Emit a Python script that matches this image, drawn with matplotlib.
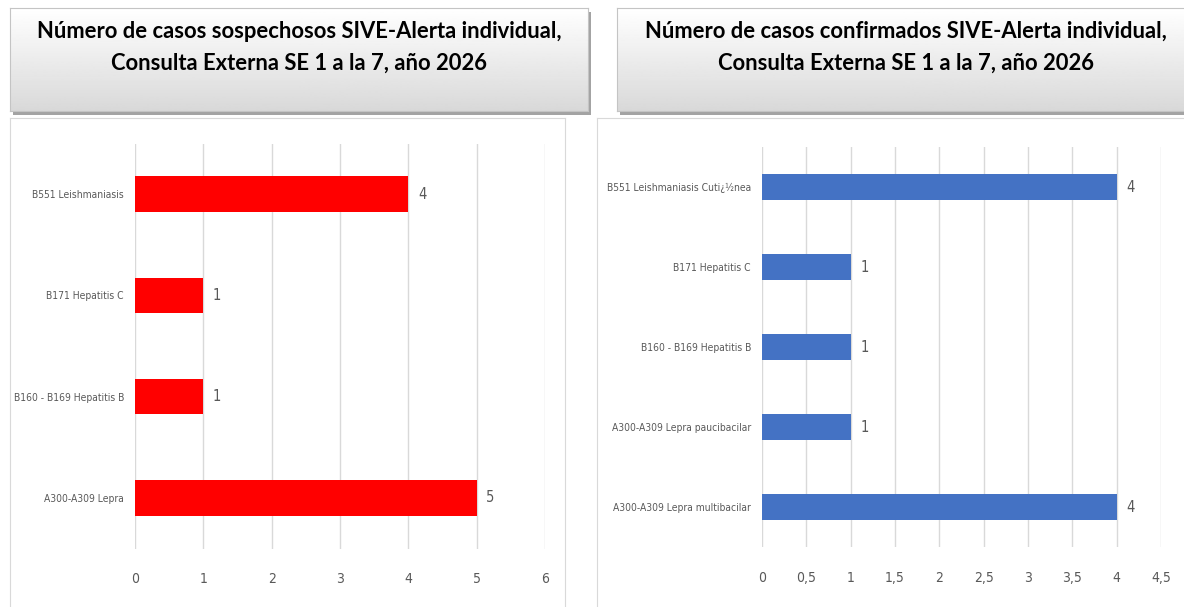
import matplotlib
matplotlib.use("Agg")
from matplotlib import pyplot as plt
import numpy as np

# datos
sosp_labels = ["B551 Leishmaniasis", "B171 Hepatitis C", "B160 - B169 Hepatitis B", "A300-A309 Lepra"]
sosp_values = [4, 1, 1, 5]
sosp_ticks = [0, 1, 2, 3, 4, 5, 6]
sosp_ticklabels = ["0", "1", "2", "3", "4", "5", "6"]

conf_labels = ["B551 Leishmaniasis Cuti¿½nea", "B171 Hepatitis C", "B160 - B169 Hepatitis B",
               "A300-A309 Lepra paucibacilar", "A300-A309 Lepra multibacilar"]
conf_values = [4, 1, 1, 1, 4]
conf_ticks = [0, 0.5, 1, 1.5, 2, 2.5, 3, 3.5, 4, 4.5]
conf_ticklabels = ["0", "0,5", "1", "1,5", "2", "2,5", "3", "3,5", "4", "4,5"]

title_sosp = "Número de casos sospechosos SIVE-Alerta individual,\nConsulta Externa SE 1 a la 7, año 2026"
title_conf = "Número de casos confirmados SIVE-Alerta individual,\nConsulta Externa SE 1 a la 7, año 2026"

W, H = 1184, 607
fig = plt.figure(figsize=(W / 100, H / 100), dpi=100)
fig.patch.set_facecolor("white")

LABEL_FONT = dict(family="DejaVu Sans", stretch="condensed", color="#595959")


def px_axes(x0, y0, x1, y1, **kw):
    # caja en pixeles (origen arriba-izquierda) -> ejes de la figura
    return fig.add_axes([x0 / W, 1 - y1 / H, (x1 - x0) / W, (y1 - y0) / H], **kw)


def title_box(x0, y0, x1, y1, text, xc):
    # sombra
    sh = px_axes(x0 + 3, y0 + 4, x1 + 3, y1 + 4)
    sh.set_facecolor("#a3a3a3")
    sh.set_xticks([])
    sh.set_yticks([])
    for s in sh.spines.values():
        s.set_visible(False)
    ax = px_axes(x0, y0, x1, y1)
    grad = np.linspace(1.0, 0.85, 100).reshape(-1, 1)
    ax.imshow(grad, cmap="gray", vmin=0, vmax=1, aspect="auto", extent=[0, 1, 0, 1])
    ax.set_xlim(0, 1)
    ax.set_ylim(0, 1)
    ax.set_xticks([])
    ax.set_yticks([])
    for s in ax.spines.values():
        s.set_color("#c4c4c4")
    ax.text(xc, 0.62, text, ha="center", va="center", fontsize=15.8, fontweight="bold",
            family=["Lato", "DejaVu Sans"], linespacing=1.6, color="black")


def chart_frame(x0, y0, x1, y1):
    ax = px_axes(x0, y0, x1, y1)
    ax.set_xticks([])
    ax.set_yticks([])
    ax.patch.set_alpha(0)
    for s in ax.spines.values():
        s.set_color("#d9d9d9")
    return ax


def bar_chart(ax, labels, values, ticks, ticklabels, color, height, xmax):
    y = np.arange(len(labels))
    ax.barh(y, values, height=height, color=color, zorder=3)
    ax.set_ylim(len(labels) - 0.5, -0.5)
    ax.set_xlim(0, xmax)
    ax.set_yticks(y)
    ax.set_yticklabels(labels, fontsize=7.4, **LABEL_FONT)
    ax.set_xticks(ticks)
    ax.set_xticklabels(ticklabels, fontsize=10, **LABEL_FONT)
    ax.tick_params(axis="both", length=0)
    ax.tick_params(axis="x", pad=17)
    ax.tick_params(axis="y", pad=8)
    ax.grid(axis="x", color="#d9d9d9", linewidth=1, zorder=0)
    for s in ax.spines.values():
        s.set_visible(False)
    ax.patch.set_alpha(0)
    for yi, v in zip(y, values):
        ax.annotate(str(v), (v, yi), xytext=(7, 0), textcoords="offset points",
                    ha="left", va="center", fontsize=10.5, **LABEL_FONT)


chart_frame(10, 118, 565, 612)
chart_frame(597, 118, 1190, 612)

title_box(10, 8, 588, 111, title_sosp, 0.5)
title_box(617, 8, 1190, 111, title_conf, (905.5 - 617) / (1190 - 617))

ax1 = px_axes(135, 143.5, 545, 548.5)
bar_chart(ax1, sosp_labels, sosp_values, sosp_ticks, sosp_ticklabels, "#ff0000", 0.35, 6)

ax2 = px_axes(762, 147, 1161, 547)
bar_chart(ax2, conf_labels, conf_values, conf_ticks, conf_ticklabels, "#4472c4", 0.33, 4.5)

fig.savefig("out.png", dpi=100)
